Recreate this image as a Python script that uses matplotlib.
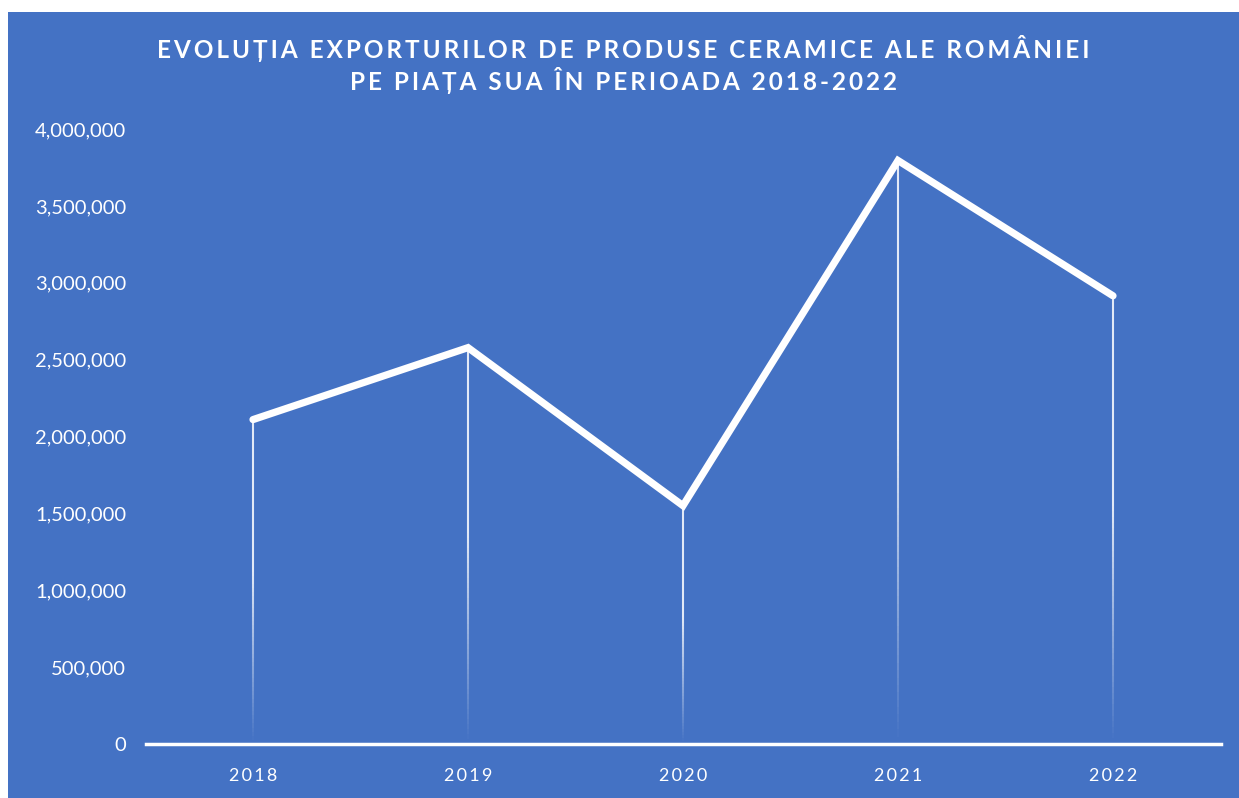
import numpy as np
import matplotlib.pyplot as plt
from matplotlib.collections import LineCollection
from matplotlib.patches import Rectangle
from matplotlib.ticker import FuncFormatter

years = ['2018', '2019', '2020', '2021', '2022']
exports = [2110000, 2578000, 1550000, 3795000, 2915000]
yticks = [0, 500000, 1000000, 1500000, 2000000, 2500000, 3000000, 3500000, 4000000]
title_lines = ['EVOLUȚIA EXPORTURILOR DE PRODUSE CERAMICE ALE ROMÂNIEI',
               'PE PIAȚA SUA ÎN PERIOADA 2018-2022']

bg = '#4472C4'
plt.rcParams['font.family'] = ['Lato', 'DejaVu Sans']


def spaced(s, sep='\u2009'):
    # poor man's letter spacing
    return sep.join(s)


fig = plt.figure(figsize=(12.39, 7.98), dpi=100, facecolor='white')
fig.patches.append(Rectangle((8 / 1239, 0), 1 - 8 / 1239, 1 - 12 / 798,
                             transform=fig.transFigure, facecolor=bg,
                             edgecolor='none', zorder=-5))

ax = fig.add_axes([145.5 / 1239, 54 / 798, 1075 / 1239, 615 / 798])
ax.set_facecolor('none')
ax.set_zorder(2)
x = np.arange(len(years))

# drop lines fading towards the axis
for xi, v in zip(x, exports):
    ys = np.linspace(0, v, 80)
    segs = [[(xi, ys[i]), (xi, ys[i + 1])] for i in range(len(ys) - 1)]
    alphas = np.clip(np.linspace(0.0, 1.0, len(segs)) * 1.6, 0, 0.85)
    cols = [(1, 1, 1, a) for a in alphas]
    ax.add_collection(LineCollection(segs, colors=cols, linewidths=1.5, zorder=2))

ax.plot(x, exports, color='white', lw=5.2, solid_capstyle='round',
        solid_joinstyle='miter', zorder=3)

ax.set_xlim(-0.5, len(years) - 0.5)
ax.set_ylim(0, 4000000)
ax.set_yticks(yticks)
ax.yaxis.set_major_formatter(FuncFormatter(lambda v, p: f'{int(v):,}'))
ax.set_xticks(x)
ax.set_xticklabels([spaced(y) for y in years])
for s in ['top', 'right', 'left']:
    ax.spines[s].set_visible(False)
ax.spines['bottom'].set_color('white')
ax.spines['bottom'].set_linewidth(2.5)
ax.tick_params(axis='both', length=0, colors='white', labelsize=14.5)
ax.tick_params(axis='y', pad=14)
ax.tick_params(axis='x', pad=17)
for lab in ax.get_xticklabels():
    lab.set_fontsize(13)

cx = 0.5 * (1 + 8 / 1239)
fig.text(cx, 1 - 49 / 798, spaced(title_lines[0]), ha='center', va='center',
         color='white', fontsize=17.5, fontweight='bold')
fig.text(cx, 1 - 80 / 798, spaced(title_lines[1]), ha='center', va='center',
         color='white', fontsize=17.5, fontweight='bold')

fig.savefig('out.png', dpi=100, facecolor=fig.get_facecolor())
